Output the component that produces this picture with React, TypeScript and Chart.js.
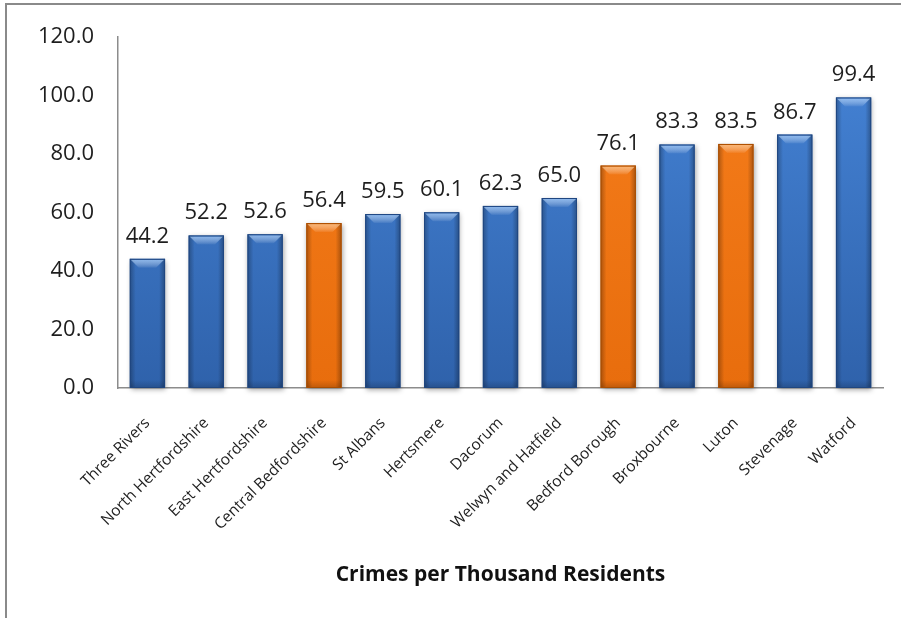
import { useEffect, useRef } from 'react';
import { Chart, registerables } from 'chart.js';

Chart.register(...registerables);

const categories = [
  'Three Rivers',
  'North Hertfordshire',
  'East Hertfordshire',
  'Central Bedfordshire',
  'St Albans',
  'Hertsmere',
  'Dacorum',
  'Welwyn and Hatfield',
  'Bedford Borough',
  'Broxbourne',
  'Luton',
  'Stevenage',
  'Watford',
];
const crimeRates = [44.2, 52.2, 52.6, 56.4, 59.5, 60.1, 62.3, 65.0, 76.1, 83.3, 83.5, 86.7, 99.4];
const highlighted = ['Central Bedfordshire', 'Bedford Borough', 'Luton'];
const yMin = 0;
const yMax = 120;
const yStep = 20;
const axisTitle = 'Crimes per Thousand Residents';

const FONT = "'Open Sans', 'Noto Sans', sans-serif";

const BLUE = { top: '#4685d8', bottom: '#2f62ab', edge: '#1f4680', bevel: 'rgba(170,210,255,0.75)' };
const ORANGE = { top: '#f67e1c', bottom: '#e86d0d', edge: '#a84d00', bevel: 'rgba(255,205,150,0.75)' };

const paletteFor = (i: number) => (highlighted.includes(categories[i]) ? ORANGE : BLUE);

const framePlugin = {
  id: 'frame',
  beforeDraw(chart: any) {
    const { ctx, width, height } = chart;
    ctx.save();
    ctx.fillStyle = '#ffffff';
    ctx.fillRect(0, 0, width, height);
    ctx.strokeStyle = '#8a8a8a';
    ctx.lineWidth = 2;
    ctx.beginPath();
    ctx.moveTo(6, height);
    ctx.lineTo(6, 4);
    ctx.lineTo(width, 4);
    ctx.stroke();
    ctx.restore();
  },
};

const shadowPlugin = {
  id: 'barShadow',
  beforeDatasetsDraw(chart: any) {
    const { ctx } = chart;
    const meta = chart.getDatasetMeta(0);
    ctx.save();
    ctx.shadowColor = 'rgba(0,0,0,0.35)';
    ctx.shadowBlur = 5;
    ctx.shadowOffsetX = 1;
    ctx.shadowOffsetY = 2;
    ctx.fillStyle = '#ffffff';
    meta.data.forEach((bar: any) => {
      const w = bar.width;
      ctx.fillRect(bar.x - w / 2, bar.y, w, bar.base - bar.y);
    });
    ctx.restore();
  },
};

const decorPlugin = {
  id: 'barDecor',
  afterDatasetsDraw(chart: any) {
    const { ctx } = chart;
    const meta = chart.getDatasetMeta(0);
    ctx.save();
    meta.data.forEach((bar: any, i: number) => {
      const p = paletteFor(i);
      const w = bar.width;
      const l = bar.x - w / 2;
      const r = bar.x + w / 2;
      const t = bar.y;
      const b = bar.base;
      const gl = ctx.createLinearGradient(l, 0, l + 6, 0);
      gl.addColorStop(0, 'rgba(0,0,0,0.28)');
      gl.addColorStop(1, 'rgba(0,0,0,0)');
      ctx.fillStyle = gl;
      ctx.fillRect(l, t, 6, b - t);
      const gr = ctx.createLinearGradient(r - 6, 0, r, 0);
      gr.addColorStop(0, 'rgba(0,0,0,0)');
      gr.addColorStop(1, 'rgba(0,0,0,0.3)');
      ctx.fillStyle = gr;
      ctx.fillRect(r - 6, t, 6, b - t);
      const gb = ctx.createLinearGradient(0, b - 8, 0, b);
      gb.addColorStop(0, 'rgba(0,0,0,0)');
      gb.addColorStop(1, 'rgba(0,0,0,0.18)');
      ctx.fillStyle = gb;
      ctx.fillRect(l, b - 8, w, 8);
      const bev = 9;
      const gt = ctx.createLinearGradient(0, t, 0, t + bev);
      gt.addColorStop(0, p.bevel);
      gt.addColorStop(1, 'rgba(255,255,255,0.05)');
      ctx.fillStyle = gt;
      ctx.beginPath();
      ctx.moveTo(l + 1, t + 1);
      ctx.lineTo(r - 1, t + 1);
      ctx.lineTo(r - bev, t + bev);
      ctx.lineTo(l + bev, t + bev);
      ctx.closePath();
      ctx.fill();
      ctx.strokeStyle = p.edge;
      ctx.lineWidth = 1;
      ctx.strokeRect(l + 0.5, t + 0.5, w - 1, b - t - 1);
    });
    ctx.fillStyle = '#1e1e1e';
    ctx.font = `22px ${FONT}`;
    ctx.textAlign = 'center';
    ctx.textBaseline = 'alphabetic';
    meta.data.forEach((bar: any, i: number) => {
      ctx.fillText(crimeRates[i].toFixed(1), bar.x, bar.y - 16);
    });
    ctx.restore();
  },
};

export default function App() {
  const canvasRef = useRef<HTMLCanvasElement | null>(null);

  useEffect(() => {
    const canvas = canvasRef.current;
    if (!canvas) return;
    const chart = new Chart(canvas, {
      type: 'bar',
      data: {
        labels: categories,
        datasets: [
          {
            label: axisTitle,
            data: crimeRates,
            barPercentage: 0.6,
            categoryPercentage: 1,
            borderWidth: 0,
            backgroundColor: (ctx: any) => {
              const chartObj = ctx.chart;
              const area = chartObj.chartArea;
              const p = paletteFor(ctx.dataIndex);
              if (!area) return p.top;
              const g = chartObj.ctx.createLinearGradient(0, area.top, 0, area.bottom);
              g.addColorStop(0, p.top);
              g.addColorStop(1, p.bottom);
              return g;
            },
          },
        ],
      },
      options: {
        responsive: false,
        animation: false,
        layout: { padding: { top: 33, right: 18, bottom: 0, left: 0 } },
        plugins: {
          legend: { display: false },
          tooltip: { enabled: false },
        },
        scales: {
          x: {
            grid: { display: false, drawTicks: false },
            border: { color: '#8c8c8c', width: 1.5 },
            ticks: {
              autoSkip: false,
              maxRotation: 45,
              minRotation: 45,
              padding: 26,
              color: '#1e1e1e',
              font: { family: FONT, size: 15.5 },
            },
            title: {
              display: true,
              text: axisTitle,
              color: '#111111',
              font: { family: FONT, size: 21, weight: 'bold' },
              padding: { top: 0, bottom: 30 },
            },
            afterFit: (scale: any) => {
              scale.height = 230;
            },
          },
          y: {
            min: yMin,
            max: yMax,
            grid: { display: false, drawTicks: false },
            border: { color: '#8c8c8c', width: 1.5 },
            ticks: {
              stepSize: yStep,
              padding: 24,
              color: '#1e1e1e',
              font: { family: FONT, size: 22 },
              callback: (v: any) => Number(v).toFixed(1),
            },
            afterFit: (scale: any) => {
              scale.width = 118;
            },
          },
        },
      },
      plugins: [framePlugin, shadowPlugin, decorPlugin],
    });
    return () => chart.destroy();
  }, []);

  return (
    <div style={{ position: 'absolute', left: 0, top: 0, width: 901, height: 618 }}>
      <canvas ref={canvasRef} width={901} height={618} style={{ display: 'block', width: 901, height: 618 }} />
    </div>
  );
}
